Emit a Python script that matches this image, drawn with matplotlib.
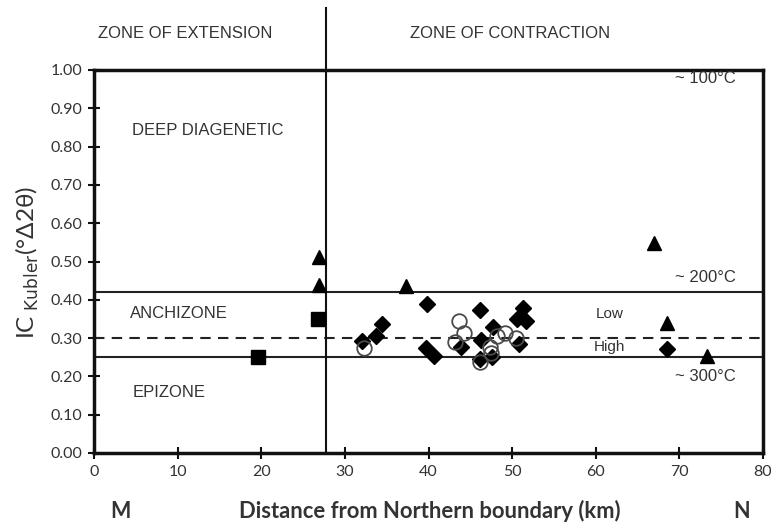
import numpy as np
import matplotlib

matplotlib.use('Agg')
from matplotlib import pyplot as plt

# values
tri_x = [26.9, 26.9, 37.3, 67.0, 68.5, 73.3]
tri_y = [0.511, 0.439, 0.435, 0.549, 0.339, 0.253]

sq_x = [19.6, 26.8]
sq_y = [0.251, 0.349]

dia_x = [32.0, 33.7, 34.4, 39.8, 39.7, 40.7, 43.9, 46.2, 46.3, 47.7, 46.2, 47.6,
         50.6, 51.3, 51.7, 50.8, 68.5]
dia_y = [0.292, 0.305, 0.336, 0.388, 0.275, 0.253, 0.278, 0.373, 0.295, 0.330, 0.245, 0.250,
         0.349, 0.378, 0.345, 0.285, 0.272]

circ_x = [32.3, 43.7, 44.3, 43.2, 48.2, 49.1, 47.3, 46.2, 47.5, 50.5]
circ_y = [0.273, 0.345, 0.314, 0.291, 0.305, 0.314, 0.278, 0.238, 0.262, 0.299]

boundary_x = 27.7          # extension / contraction limit
anchi_top = 0.42           # ~200 C
anchi_mid = 0.30           # low / high anchizone
anchi_bot = 0.25           # ~300 C

xticks = np.arange(0, 81, 10)
yticks = np.arange(0, 1.01, 0.1)

txt = '#333333'
arial = ['Liberation Sans', 'DejaVu Sans']
tickfont = ['Lato', 'DejaVu Sans']

fig = plt.figure(figsize=(7.71, 5.23), dpi=100)
ax = fig.add_axes([94 / 771, 1 - 453 / 523, 669 / 771, 383 / 523])

ax.set_xlim(0, 80)
ax.set_ylim(0, 1)

# zone lines
ax.axhline(anchi_top, color='#222222', lw=1.5)
ax.axhline(anchi_bot, color='#222222', lw=1.5)
ax.axhline(anchi_mid, color='#222222', lw=1.5, ls=(0, (5, 3.5)))
ax.axvline(boundary_x, ymin=0, ymax=(453 - 8) / 383, color='#111111', lw=1.5, clip_on=False)

# samples
ax.plot(dia_x, dia_y, 'D', ms=8, color='black', zorder=3)
ax.plot(circ_x, circ_y, 'o', ms=10.5, mfc='none', mec='#4a4a4a', mew=1.3, zorder=4)
ax.plot(tri_x, tri_y, '^', ms=9.5, color='black', zorder=3)
ax.plot(sq_x, sq_y, 's', ms=10, color='black', zorder=3)

for side in ['left', 'bottom', 'top', 'right']:
    ax.spines[side].set_linewidth(2.5)
    ax.spines[side].set_color('#111111')

ax.set_xticks(xticks)
ax.set_yticks(yticks)
ax.set_yticklabels([f'{v:.2f}' for v in yticks])
ax.tick_params(direction='inout', length=9, width=1.5, colors='#111111',
               labelcolor=txt, labelsize=11.5, pad=4)
ax.tick_params(top=False, right=False)
for lab in ax.get_xticklabels() + ax.get_yticklabels():
    lab.set_family(tickfont)

# zone names inside
ax.text(4.6, 0.843, 'DEEP DIAGENETIC', fontsize=12, color=txt, va='center', family=arial)
ax.text(4.3, 0.365, 'ANCHIZONE', fontsize=12, color=txt, va='center', family=arial)
ax.text(4.6, 0.157, 'EPIZONE', fontsize=12, color=txt, va='center', family=arial)

ax.text(76.8, 0.977, '~ 100°C', fontsize=12, color=txt, ha='right', va='center', family=arial)
ax.text(76.8, 0.457, '~ 200°C', fontsize=12, color=txt, ha='right', va='center', family=arial)
ax.text(76.8, 0.200, '~ 300°C', fontsize=12, color=txt, ha='right', va='center', family=arial)
ax.text(60.0, 0.363, 'Low', fontsize=11, color=txt, va='center', family=arial)
ax.text(59.8, 0.277, 'High', fontsize=11, color=txt, va='center', family=arial)

# above the plot
fig.text(185 / 771, 1 - 33 / 523, 'ZONE OF EXTENSION', fontsize=12, color=txt,
         ha='center', va='center', family=arial)
fig.text(510 / 771, 1 - 33 / 523, 'ZONE OF CONTRACTION', fontsize=12, color=txt,
         ha='center', va='center', family=arial)

# x axis captions
fig.text(120 / 771, 1 - 511 / 523, 'M', fontsize=15.5, color=txt, ha='center', va='center',
         family=tickfont, weight='bold')
fig.text(742 / 771, 1 - 511 / 523, 'N', fontsize=15.5, color=txt, ha='center', va='center',
         family=tickfont, weight='bold')
fig.text(430 / 771, 1 - 511 / 523, 'Distance from Northern boundary (km)', fontsize=15.8,
         color=txt, ha='center', va='center', family=tickfont, weight='bold')

fig.text(27 / 771, 1 - 262 / 523, r'IC$_{\rm\ Kubler}$(°Δ2θ)', fontsize=17.5, color=txt,
         ha='center', va='center', rotation=90, family=tickfont)

fig.savefig('out.png', dpi=100)
